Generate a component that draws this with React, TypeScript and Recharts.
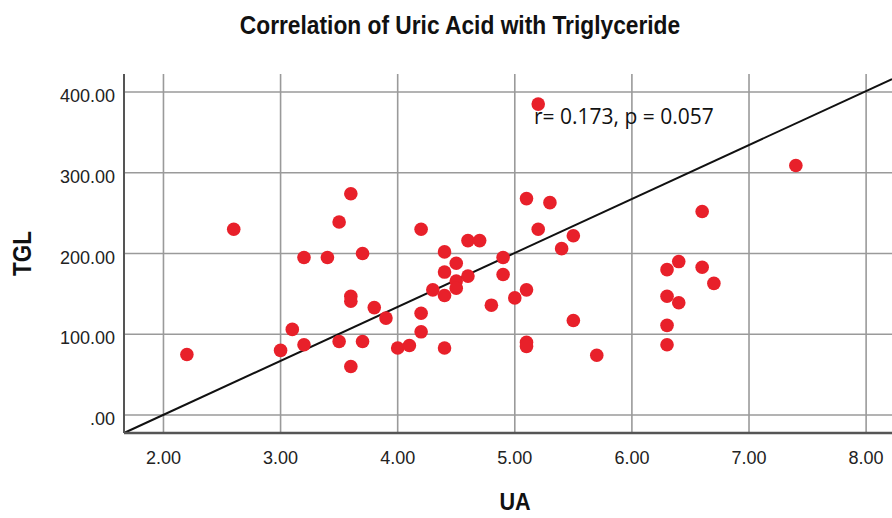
import {
  ScatterChart, Scatter, XAxis, YAxis, ReferenceLine,
} from 'recharts'

// UA / TGL pairs
const uaValues = [
  2.2, 2.6, 3.0, 3.1, 3.2, 3.2, 3.4, 3.5, 3.5, 3.6,
  3.6, 3.6, 3.6, 3.7, 3.7, 3.8, 3.9, 4.0, 4.1, 4.2,
  4.2, 4.2, 4.3, 4.4, 4.4, 4.4, 4.4, 4.5, 4.5, 4.5,
  4.6, 4.7, 4.6, 4.8, 4.9, 4.9, 5.0, 5.1, 5.1, 5.1,
  5.1, 5.2, 5.2, 5.3, 5.4, 5.5, 5.5, 5.7, 6.3, 6.3,
  6.3, 6.3, 6.4, 6.4, 6.6, 6.6, 6.7, 7.4,
]
const tglValues = [
  75, 230, 80, 106, 87, 195, 195, 239, 91, 274,
  147, 141, 60, 200, 91, 133, 120, 83, 86, 230,
  126, 103, 155, 83, 202, 177, 148, 188, 166, 157,
  216, 216, 172, 136, 195, 174, 145, 268, 155, 90,
  85, 385, 230, 263, 206, 222, 117, 74, 180, 147,
  111, 87, 190, 139, 252, 183, 163, 309,
]

// fit line end points (UA, TGL)
const fitUA = [1.663, 8.221]
const fitTGL = [-22.3, 416]

const xTicks = [2, 3, 4, 5, 6, 7, 8]
const yTicks = [0, 100, 200, 300, 400]
const xDomain = [1.663, 8.221]
const yDomain = [-22.3, 422.3]

const title = 'Correlation of Uric Acid with Triglyceride'
const xTitle = 'UA'
const yTitle = 'TGL'
const statText = 'r= 0.173, p = 0.057'

const data = uaValues.map((ua, i) => ({ ua, tgl: tglValues[i] }))

const fmt = (v: number) => (v === 0 ? '.00' : v.toFixed(2))

const boldFont = "'Liberation Sans', Arial, sans-serif"
const tickFont = "'Liberation Sans', Arial, sans-serif"
const gridColor = '#9a9a9a'

// eslint-disable-next-line @typescript-eslint/no-explicit-any
const XTick = ({ x, y, payload }: any) => (
  <text x={x} y={y + 31} textAnchor="middle" fontFamily={tickFont} fontSize={18} fill="#222">
    {fmt(payload.value)}
  </text>
)

// eslint-disable-next-line @typescript-eslint/no-explicit-any
const YTick = ({ x, y, payload }: any) => (
  <text x={x - 9} y={y + 10} textAnchor="end" fontFamily={tickFont} fontSize={18} fill="#222">
    {fmt(payload.value)}
  </text>
)

// eslint-disable-next-line @typescript-eslint/no-explicit-any
const Dot = ({ cx, cy }: any) => <circle cx={cx} cy={cy} r={6.8} fill="#e8202a" />

export default function App() {
  return (
    <div style={{ position: 'absolute', left: 0, top: 0, width: 892, height: 518, background: '#fff', overflow: 'hidden' }}>
      <div style={{
        position: 'absolute', left: 60, top: 13, width: 800, textAlign: 'center',
        fontFamily: boldFont, fontWeight: 'bold', fontSize: 25, lineHeight: '25px', color: '#111',
        transform: 'scaleX(0.91)',
      }}>
        {title}
      </div>
      <ScatterChart width={892} height={518} margin={{ top: 74, right: 0, bottom: 0, left: 0 }}>
        <XAxis
          dataKey="ua"
          type="number"
          domain={xDomain}
          ticks={xTicks}
          allowDataOverflow
          height={85}
          tickSize={0}
          tickMargin={0}
          tick={<XTick />}
          axisLine={{ stroke: '#555', strokeWidth: 2.5 }}
        />
        <YAxis
          dataKey="tgl"
          type="number"
          domain={yDomain}
          ticks={yTicks}
          allowDataOverflow
          width={124}
          tickSize={0}
          tickMargin={0}
          tick={<YTick />}
          axisLine={{ stroke: '#555', strokeWidth: 2 }}
        />
        {/* grid only at tick values, no frame on top / right */}
        {yTicks.map(t => (
          <ReferenceLine key={`h${t}`} y={t} stroke={gridColor} strokeWidth={1.6} />
        ))}
        {xTicks.map(t => (
          <ReferenceLine key={`v${t}`} x={t} stroke={gridColor} strokeWidth={1.6} />
        ))}
        <Scatter data={data} shape={<Dot />} isAnimationActive={false} />
        <ReferenceLine
          segment={[{ x: fitUA[0], y: fitTGL[0] }, { x: fitUA[1], y: fitTGL[1] }]}
          stroke="#111"
          strokeWidth={2}
        />
      </ScatterChart>
      <div style={{
        position: 'absolute', left: 534, top: 106, whiteSpace: 'nowrap',
        fontFamily: "'Open Sans', sans-serif", fontSize: 21, lineHeight: '21px', color: '#111',
      }}>
        {statText}
      </div>
      <div style={{
        position: 'absolute', left: 465, top: 490, width: 100, textAlign: 'center',
        fontFamily: boldFont, fontWeight: 'bold', fontSize: 24, lineHeight: '24px', color: '#111',
        transform: 'scaleX(0.9)',
      }}>
        {xTitle}
      </div>
      <div style={{
        position: 'absolute', left: -28, top: 241, width: 100, textAlign: 'center',
        transform: 'rotate(-90deg) scaleX(0.9)',
        fontFamily: boldFont, fontWeight: 'bold', fontSize: 25, lineHeight: '25px', color: '#111',
      }}>
        {yTitle}
      </div>
    </div>
  )
}
